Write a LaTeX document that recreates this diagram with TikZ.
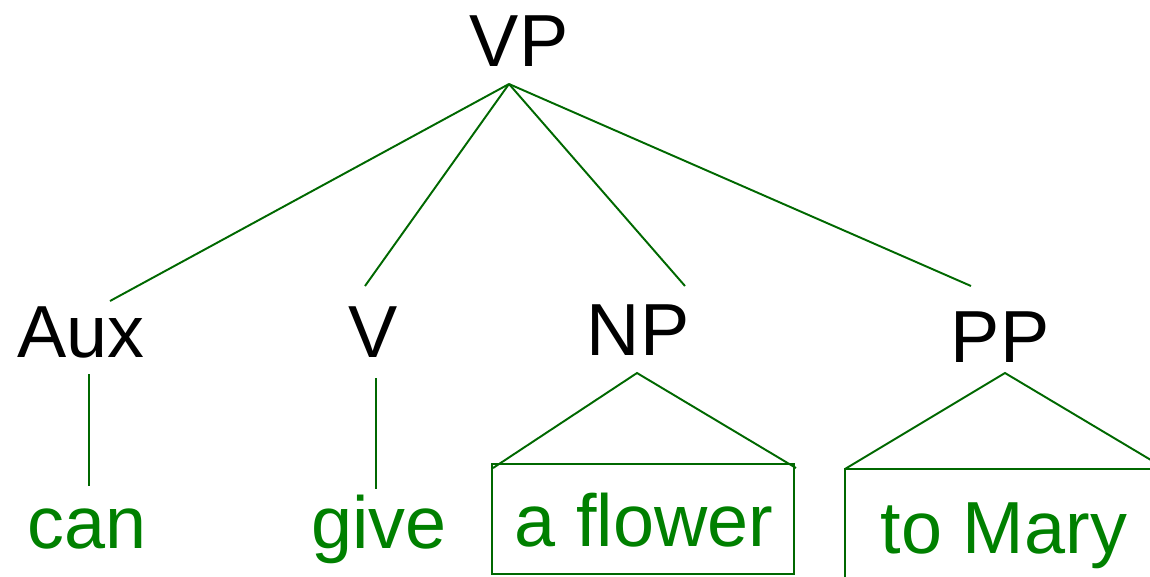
\documentclass[tikz,border=0pt]{standalone}
\usepackage{fontspec}
\setmainfont{Liberation Sans}
\definecolor{branch}{RGB}{0,104,0}
\definecolor{leaf}{RGB}{0,128,0}
\begin{document}
\begin{tikzpicture}[x=0.02cm,y=-0.02cm,
  cat/.style={inner sep=0pt,anchor=base,text=black,font=\fontsize{42}{50}\selectfont},
  word/.style={inner sep=0pt,anchor=base,text=leaf,font=\fontsize{42}{50}\selectfont},
  edge/.style={draw=branch,line width=1.1pt}]
\useasboundingbox (0,0) rectangle (1150,576);
\clip (0,0) rectangle (1150,576);

% category labels
\node[cat] (vp)  at (519,66)  {VP};
\node[cat] (aux) at (81,357)  {Aux};
\node[cat] (v)   at (373,357) {V};
\node[cat] (np)  at (638,355) {NP};
\node[cat] (pp)  at (1000,362){PP};

% terminal words
\node[word] (can)    at (87,548)  {can};
\node[word] (give)   at (379,548) {give};
\node[word] (flower) at (644,546) {a flower};
\node[word] (mary)   at (1004,553){to Mary};

% branch end points
\coordinate (vptop) at (509,84);
\coordinate (auxin) at (110,301);
\coordinate (vin)   at (365,286);
\coordinate (npin)  at (685,286);
\coordinate (ppin)  at (971,286);
\coordinate (auxout) at (89,374);
\coordinate (canin)  at (89,486);
\coordinate (vout)   at (376,378);
\coordinate (givein) at (376,489);

% triangles and boxes for phrases
\coordinate (nptip) at (637,373);
\coordinate (npl)   at (493,468);
\coordinate (npr)   at (796,468);
\coordinate (npbox1) at (492,464);
\coordinate (npbox2) at (794,574);
\coordinate (pptip) at (1005,373);
\coordinate (ppl)   at (845,469);
\coordinate (ppr)   at (1166,469);
\coordinate (ppbox1) at (845,469);
\coordinate (ppbox2) at (1164,600);

\draw[edge] (vptop) -- (auxin);
\draw[edge] (vptop) -- (vin);
\draw[edge] (vptop) -- (npin);
\draw[edge] (vptop) -- (ppin);
\draw[edge] (auxout) -- (canin);
\draw[edge] (vout) -- (givein);

\draw[edge] (npl) -- (nptip) -- (npr);
\draw[edge] (npbox1) rectangle (npbox2);
\draw[edge] (ppl) -- (pptip) -- (ppr);
\draw[edge] (ppbox1) rectangle (ppbox2);
\end{tikzpicture}
\end{document}
